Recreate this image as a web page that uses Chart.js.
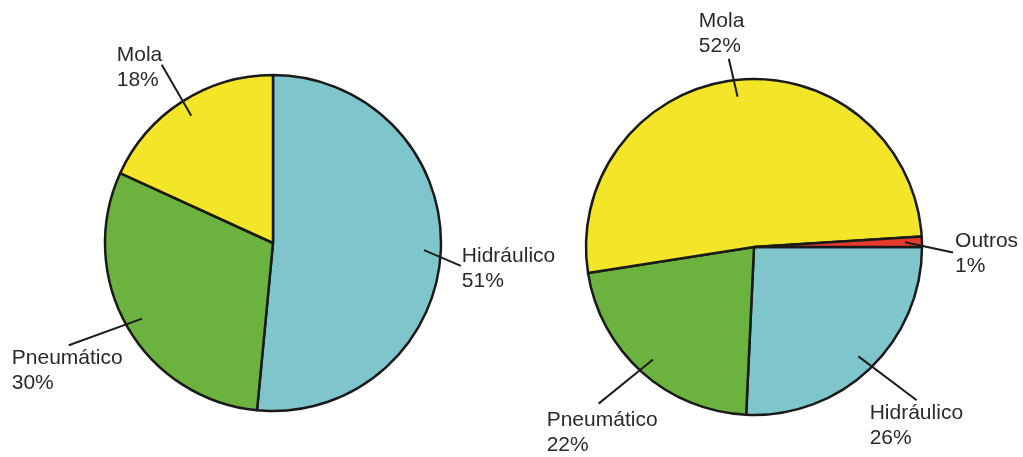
<!DOCTYPE html>
<html>
<head>
<meta charset="utf-8">
<script src="https://cdn.jsdelivr.net/npm/chart.js@4/dist/chart.umd.min.js"></script>
<style>
    html, body { margin: 0; padding: 0; background: #fff; }
    #wrap { position: relative; width: 1023px; height: 457px; }
    #wrap canvas { position: absolute; left: 0; top: 0; }
</style>
</head>
<body>
<div id="wrap">
    <canvas id="pieLeft" width="1023" height="457"></canvas>
    <canvas id="pieRight" width="1023" height="457"></canvas>
</div>
<script>
const leftLabels = ["Hidráulico", "Pneumático", "Mola"];
const leftValues = [51, 30, 18];
const leftColors = ["#7fc6cc", "#6bb23e", "#f3e629"];

const rightLabels = ["Hidráulico", "Pneumático", "Mola", "Outros"];
const rightValues = [26, 22, 52, 1];
const rightColors = ["#7fc6cc", "#6bb23e", "#f3e629", "#e53b2f"];

// leader line per slice: direction (deg, screen), length, and text offset from the line end
const leftCallouts = [
    { dir: 23, len: 40, tx: 1, ty: -4 },
    { dir: 160, len: 78, tx: -57, ty: 19 },
    { dir: 240, len: 59, tx: -45, ty: -4 }
];
const rightCallouts = [
    { dir: 37, len: 73, tx: -47, ty: 19 },
    { dir: 141, len: 70, tx: -52, ty: 22 },
    { dir: 257, len: 39, tx: -30, ty: -32 },
    { dir: 12, len: 49, tx: 2, ty: -5 }
];

const calloutPlugin = {
    id: "callouts",
    afterDatasetsDraw(chart, args, opts) {
        const ctx = chart.ctx;
        const meta = chart.getDatasetMeta(0);
        const labels = chart.data.labels;
        const values = chart.data.datasets[0].data;

        ctx.save();
        ctx.font = "21px 'Liberation Sans', Arial, sans-serif";
        ctx.textBaseline = "alphabetic";
        ctx.textAlign = "left";

        meta.data.forEach((arc, i) => {
            const c = opts.items[i];
            const p = arc.getProps(["x", "y", "startAngle", "endAngle", "outerRadius"], true);
            const mid = (p.startAngle + p.endAngle) / 2;
            const x0 = p.x + Math.cos(mid) * p.outerRadius * 0.9;
            const y0 = p.y + Math.sin(mid) * p.outerRadius * 0.9;
            const a = c.dir * Math.PI / 180;
            const x1 = x0 + Math.cos(a) * c.len;
            const y1 = y0 + Math.sin(a) * c.len;

            ctx.strokeStyle = "#1c1c1c";
            ctx.lineWidth = 2;
            ctx.beginPath();
            ctx.moveTo(x0, y0);
            ctx.lineTo(x1, y1);
            ctx.stroke();

            ctx.fillStyle = "#2a2a2a";
            ctx.fillText(labels[i], x1 + c.tx, y1 + c.ty);
            ctx.fillText(values[i] + "%", x1 + c.tx, y1 + c.ty + 25);
        });
        ctx.restore();
    }
};

function drawPie(canvas, labels, data, colors, rotation, padding, callouts) {
    return new Chart(canvas.getContext("2d"), {
        type: "pie",
        data: {
            labels: labels,
            datasets: [{
                data: data,
                backgroundColor: colors,
                borderColor: "#1a1a1a",
                borderWidth: 2.5
            }]
        },
        options: {
            responsive: false,
            animation: false,
            events: [],
            rotation: rotation,
            radius: 168,
            layout: { padding: padding },
            plugins: {
                legend: { display: false },
                tooltip: { enabled: false },
                callouts: { items: callouts }
            }
        },
        plugins: [calloutPlugin]
    });
}

document.addEventListener("DOMContentLoaded", function() {
    drawPie(document.getElementById("pieLeft"), leftLabels, leftValues, leftColors, 0,
        { left: 0, right: 477, top: 29, bottom: 0 }, leftCallouts);
    drawPie(document.getElementById("pieRight"), rightLabels, rightValues, rightColors, 90,
        { left: 485, right: 0, top: 37, bottom: 0 }, rightCallouts);
});
</script>
</body>
</html>
